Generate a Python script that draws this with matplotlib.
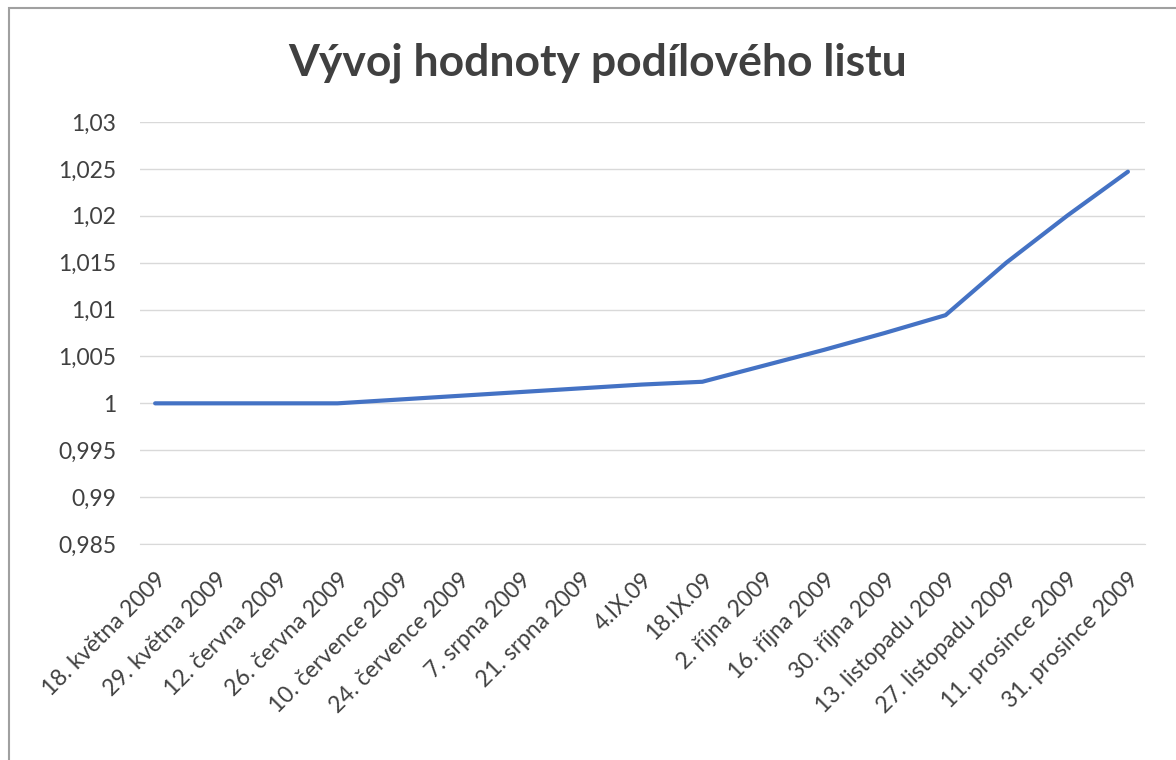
import numpy as np
import matplotlib.pyplot as plt
from matplotlib.patches import Rectangle
from matplotlib.ticker import FuncFormatter

labels = ['18. května 2009', '29. května 2009', '12. června 2009', '26. června 2009',
          '10. července 2009', '24. července 2009', '7. srpna 2009', '21. srpna 2009',
          '4.IX.09', '18.IX.09', '2. října 2009', '16. října 2009', '30. října 2009',
          '13. listopadu 2009', '27. listopadu 2009', '11. prosince 2009', '31. prosince 2009']
values = [1.0000, 1.0000, 1.0000, 1.0000, 1.0004, 1.0008, 1.0012, 1.0016, 1.0020,
          1.0023, 1.0040, 1.0057, 1.0075, 1.0094, 1.0150, 1.0200, 1.0247]
yticks = [0.985, 0.99, 0.995, 1.0, 1.005, 1.01, 1.015, 1.02, 1.025, 1.03]

plt.rcParams['font.family'] = ['Lato', 'DejaVu Sans']

fig = plt.figure(figsize=(11.76, 7.6), dpi=100)
ax = fig.add_axes([0.119, 0.2842, 0.8546, 0.5553])

x = np.arange(len(values))
ax.plot(x, values, color='#4472C4', lw=3, solid_capstyle='round')

ax.set_xlim(-0.25, len(values) - 1 + 0.28)
ax.set_ylim(0.985, 1.03)
ax.set_yticks(yticks)
ax.yaxis.set_major_formatter(FuncFormatter(lambda v, p: ('%g' % round(v, 4)).replace('.', ',')))
ax.set_xticks(x)
ax.set_xticklabels(labels, rotation=45, ha='right', rotation_mode='anchor')

ax.grid(axis='y', color='#D9D9D9', lw=1)
ax.set_axisbelow(True)
for s in ['top', 'right', 'left']:
    ax.spines[s].set_visible(False)
ax.spines['bottom'].set_color('#D9D9D9')
ax.tick_params(axis='both', length=0, labelsize=16.5, colors='#404040')
ax.tick_params(axis='y', pad=17)
ax.tick_params(axis='x', pad=18)

fig.text(0.508, 0.918, 'Vývoj hodnoty podílového listu', ha='center', va='center',
         fontsize=32, fontweight='bold', color='#404040')

fig.patches.append(Rectangle((0.008, -0.01), 1.0, 1.0, transform=fig.transFigure,
                             fill=False, edgecolor='#A0A0A0', lw=1.5))

fig.savefig('out.png', dpi=100)
